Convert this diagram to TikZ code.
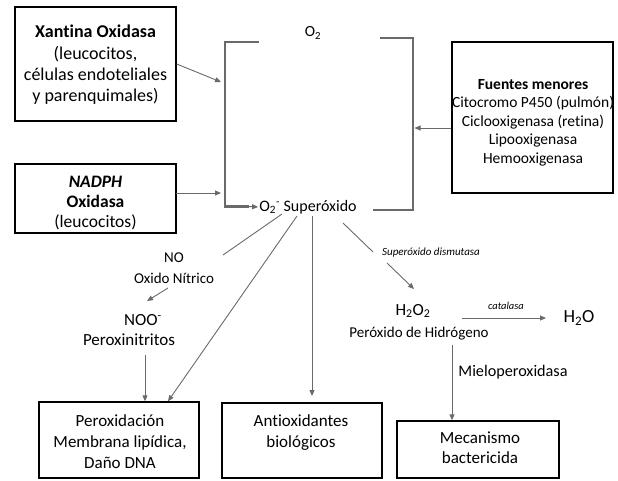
\documentclass[tikz,border=0pt]{standalone}
\usepackage{fontspec}
\setmainfont{Carlito}[Ligatures=NoCommon]
\usetikzlibrary{arrows.meta,calc}
\definecolor{ln}{HTML}{6A6A6A}
\begin{document}
\begin{tikzpicture}[x=1pt,y=-1pt,
  box/.style={draw=black,line width=1.4pt,inner sep=0pt},
  txt/.style={align=center,inner sep=0pt,font=\fontsize{17}{21}\selectfont},
  small/.style={align=center,inner sep=0pt,font=\fontsize{11}{13}\selectfont\itshape},
  arr/.style={draw=ln,line width=0.9pt,-{Triangle[length=6pt,width=5pt]}},
  seg/.style={draw=ln,line width=0.9pt},
  brk/.style={draw=ln,line width=2.2pt}]
\useasboundingbox (0,0) rectangle (618,480);
% boxes
\node[box,minimum width=161pt,minimum height=114pt] (xan) at (95.5,64) {};
\node[txt,font=\fontsize{18}{21.3}\selectfont] (xanT) at (95.5,65) {\textbf{Xantina Oxidasa}\\(leucocitos,\\células endoteliales\\y parenquimales)};
\node[box,minimum width=161pt,minimum height=69pt] (nad) at (95.5,198.5) {};
\node[txt,font=\fontsize{17.5}{20}\selectfont] (nadT) at (95.5,203) {\textbf{\textit{NADPH}}\\\textbf{Oxidasa}\\(leucocitos)};
\node[box,minimum width=161pt,minimum height=151pt] (fue) at (532.5,117.5) {};
\node[txt,font=\fontsize{15.5}{18.5}\selectfont] (fueT) at (533,122.5) {\textbf{Fuentes menores}\\Citocromo P450 (pulmón)\\Ciclooxigenasa (retina)\\Lipooxigenasa\\Hemooxigenasa};
\node[box,minimum width=160pt,minimum height=76pt] (per) at (119,440) {};
\node[txt] (perT) at (120,442) {Peroxidación\\Membrana lipídica,\\Daño DNA};
\node[box,minimum width=160pt,minimum height=75pt] (ant) at (302,440.5) {};
\node[txt] (antT) at (301,432.5) {Antioxidantes\\biológicos};
\node[box,minimum width=162pt,minimum height=57pt] (mec) at (478,449.5) {};
\node[txt,font=\fontsize{17}{20}\selectfont] (mecT) at (480,448) {Mecanismo\\bactericida};
% texts
\node[txt,font=\fontsize{15.5}{18}\selectfont] (o2) at (313,33) {O\textsubscript{2}};
\node[txt,font=\fontsize{16}{18}\selectfont] (sup) at (308,207) {O\textsubscript{2}\textsuperscript{\raisebox{-1pt}{-}} Superóxido};
\node[txt,font=\fontsize{15}{21}\selectfont] (no) at (174,268) {NO\\Oxido Nítrico};
\node[txt,font=\fontsize{17}{20}\selectfont] (noo) at (129,330) {\hspace*{28pt}NOO\textsuperscript{-}\\Peroxinitritos};
\node[txt,font=\fontsize{17}{18}\selectfont] (h2o2) at (413,311) {H\textsubscript{2}O\textsubscript{2}};
\node[txt,font=\fontsize{15}{18}\selectfont] (pxh) at (419,334) {Peróxido de Hidrógeno};
\node[txt,font=\fontsize{18.5}{18}\selectfont] (h2o) at (579,318) {H\textsubscript{2}O};
\node[small] (sod) at (431,253) {Superóxido dismutasa};
\node[small,font=\fontsize{10.5}{12}\selectfont\itshape] (cat) at (506,306) {catalasa};
\node[txt,font=\fontsize{16.2}{18}\selectfont] (mie) at (513,372) {Mieloperoxidasa};
% coordinates
\coordinate (bl) at (225,82);
\coordinate (bl2) at (225,193);
\coordinate (br) at (413,128);
% bracket
\draw[brk] (259,42) -- (225,42) -- (225,206.5) -- (249,206.5);
\draw[ln,line width=0.9pt,-{Triangle[length=6pt,width=5pt]}] (248,206.5) -- ($(sup.west)+(-1,0)$);
\draw[brk] (380,38) -- (413,38) -- (413,210) -- (373,210);
% connectors
\draw[arr] (xan.east) -- ($(bl)+(-4,0)$);
\draw[arr] (176,193) -- ($(bl2)+(-4,0)$);
\draw[arr] (fue.west |- br) -- ($(br)+(1.5,0)$);
\draw[seg] (282,214) -- (223,255);
\draw[arr] (168,288) -- (147,301);
\draw[arr] (297,216) -- (per.north -| 168,0);
\draw[arr] (312,216) -- (312,396);
\draw[seg] (343,223) -- (373,252);
\draw[arr] (387,263) -- (414,289);
\draw[arr] (145,355) -- (per.north -| 145,0);
\draw[arr] (462,318) -- (546,318);
\draw[arr] (452,345) -- (mec.north -| 452,0);
\end{tikzpicture}
\end{document}
